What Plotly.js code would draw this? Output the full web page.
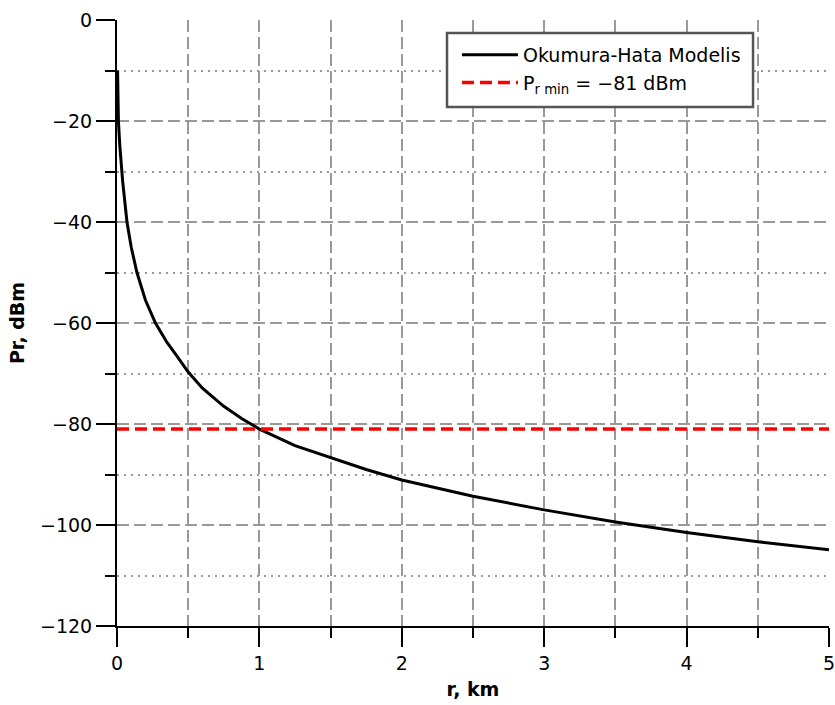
<!DOCTYPE html>
<html>
<head>
<meta charset="utf-8">
<script src="https://cdn.plot.ly/plotly-3.0.1.min.js"></script>
<style>html,body{margin:0;padding:0;background:#fff;}#chart{width:835px;height:705px;}</style>
</head>
<body>
<div id="chart"></div>
<script>
// distance r, km
const rKm = [0.004, 0.01, 0.02, 0.04, 0.07, 0.1, 0.14, 0.2, 0.27, 0.35, 0.425, 0.5, 0.6, 0.75, 0.875, 1.0, 1.25, 1.5, 1.75, 2.0, 2.5, 3.0, 3.5, 4.0, 4.5, 5.0];
// received power, dBm (Okumura-Hata)
const prDbm = [-10, -20, -25, -32, -40, -45, -50, -55.5, -60, -63.8, -66.7, -69.7, -72.9, -76.5, -78.9, -81, -84.3, -86.7, -89.0, -91.1, -94.3, -97.0, -99.4, -101.5, -103.3, -104.9];
// threshold
const prMin = -81;
const xRange = [0, 5];
const yRange = [-120, 0];
const curveName = 'Okumura-Hata Modelis';
const minName = 'P<sub>r min</sub> = \u221281 dBm';
const xTitle = '<b>r, km</b>';
const yTitle = '<b>Pr, dBm</b>';

const font = 'DejaVu Sans, Verdana, sans-serif';

const traces = [
  {x: rKm, y: prDbm, type: 'scatter', mode: 'lines', name: curveName,
   line: {color: '#000000', width: 3}},
  {x: xRange, y: [prMin, prMin], type: 'scatter', mode: 'lines', name: minName,
   line: {color: '#ff0000', width: 3.5, dash: '12px,6px'}}
];

const gridCol = '#999999';
const layout = {
  width: 835, height: 705,
  margin: {l: 117, r: 6, t: 20, b: 79},
  paper_bgcolor: '#ffffff', plot_bgcolor: '#ffffff',
  font: {family: font, size: 19, color: '#000'},
  showlegend: true,
  legend: {x: 0.4775, y: 0.9736, xanchor: 'left', yanchor: 'top',
    bgcolor: 'rgba(0,0,0,0)', borderwidth: 0, itemwidth: 56,
    font: {family: font, size: 19, color: '#000'}},
  shapes: [
    {type: 'rect', xref: 'paper', yref: 'paper', x0: 0.4635, x1: 0.8933, y0: 0.8564, y1: 0.9785,
     fillcolor: '#ffffff', line: {color: '#555555', width: 2.5}, layer: 'above'}
  ],
  xaxis: {range: xRange, dtick: 1, tick0: 0, showline: true, linecolor: '#000', linewidth: 2,
    ticks: 'outside', ticklen: 19, tickwidth: 2, tickcolor: '#000',
    ticklabeloverflow: 'allow',
    showgrid: true, gridcolor: gridCol, gridwidth: 2, griddash: '12px,5px',
    zeroline: false,
    minor: {dtick: 0.5, ticks: 'outside', ticklen: 10, tickwidth: 2, tickcolor: '#000',
      showgrid: true, gridcolor: gridCol, gridwidth: 2, griddash: '12px,5px'},
    title: {text: xTitle, font: {family: font, size: 19}, standoff: 10},
    tickfont: {family: font, size: 19}},
  yaxis: {range: yRange, dtick: 20, tick0: 0, showline: true, linecolor: '#000', linewidth: 2,
    ticks: 'outside', ticklen: 19, tickwidth: 2, tickcolor: '#000',
    ticklabeloverflow: 'allow',
    showgrid: true, gridcolor: gridCol, gridwidth: 2, griddash: '12px,5px',
    zeroline: false,
    minor: {dtick: 10, ticks: 'outside', ticklen: 10, tickwidth: 2, tickcolor: '#000',
      showgrid: true, gridcolor: gridCol, gridwidth: 2, griddash: '2px,5px'},
    title: {text: yTitle, font: {family: font, size: 19}, standoff: 10},
    tickfont: {family: font, size: 19}}
};

Plotly.newPlot('chart', traces, layout, {displayModeBar: false, staticPlot: true});
</script>
</body>
</html>
